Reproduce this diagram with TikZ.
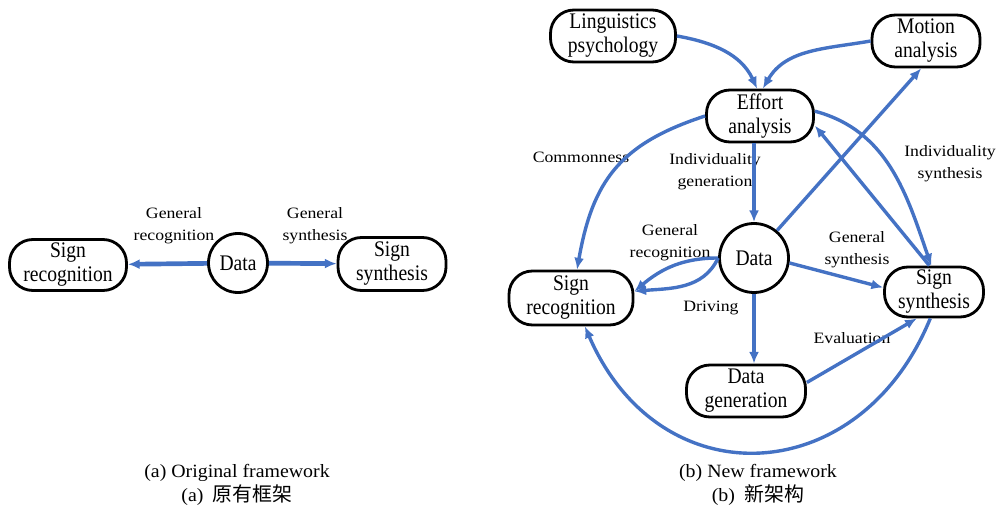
\documentclass[tikz,border=0pt]{standalone}
\usepackage{fontspec}
\setmainfont{Liberation Serif}
\newfontfamily\nodefont{Liberation Serif}[FakeStretch=0.88]
\newfontfamily\lblfont{Liberation Serif}[FakeStretch=1.12]
\newfontfamily\capfont{Liberation Serif}[FakeStretch=1.06]
\newfontfamily\cjk{Noto Sans CJK SC}
\usetikzlibrary{arrows.meta}
\definecolor{arrblue}{HTML}{4472C4}

\begin{document}
\begin{tikzpicture}[
    x=0.03cm, y=-0.03cm,
    box/.style={draw, line width=2.4pt, rounded corners=20pt, align=center, inner sep=1pt, font=\nodefont\fontsize{19}{20.5}\selectfont},
    circ/.style={draw, circle, line width=2.4pt, inner sep=0pt, font=\nodefont\fontsize{19}{20.5}\selectfont},
    lbl/.style={align=center, inner sep=0pt, font=\lblfont\fontsize{13.5}{18.5}\selectfont},
    captext/.style={align=center, inner sep=0pt, font=\capfont\fontsize{16}{21}\selectfont},
    arr/.style={-{Latex[length=10pt,width=8.5pt]}, arrblue, line width=2.9pt},
    arrthick/.style={arr, line width=4pt}
  ]
    \useasboundingbox (0,0) rectangle (1005,508);

    \node[box, minimum width=3.51cm, minimum height=1.53cm] (srecA) at (68,265) {Sign\\recognition};
    \node[circ, minimum size=1.77cm] (dataA) at (238,263) {Data};
    \node[box, minimum width=3.24cm, minimum height=1.59cm] (ssynA) at (392,264) {Sign\\synthesis};

    \node[box, minimum width=3.75cm, minimum height=1.56cm] (ling) at (613,36) {Linguistics\\psychology};
    \node[box, minimum width=3.24cm, minimum height=1.56cm] (motion) at (926,41) {Motion\\analysis};
    \node[box, minimum width=3.21cm, minimum height=1.56cm] (effort) at (760,116) {Effort\\analysis};
    \node[circ, minimum size=2.07cm] (dataB) at (754,258) {Data};
    \node[box, minimum width=3.72cm, minimum height=1.62cm] (srecB) at (571,298) {Sign\\recognition};
    \node[box, minimum width=2.97cm, minimum height=1.50cm] (ssynB) at (934,292) {Sign\\synthesis};
    \node[box, minimum width=3.57cm, minimum height=1.56cm] (dgen) at (746,391) {Data\\generation};

    \node[lbl] (lgrA) at (174,226) {General\\recognition};
    \node[lbl] (lgsA) at (315,226) {General\\synthesis};
    \node[lbl] (lcom) at (581,157) {Commonness};
    \node[lbl] (lig) at (715,172) {Individuality\\generation};
    \node[lbl] (lis) at (950,164) {Individuality\\synthesis};
    \node[lbl] (lgrB) at (670,243) {General\\recognition};
    \node[lbl] (ldrv) at (711,308) {Driving};
    \node[lbl] (lgsB) at (857,250) {General\\synthesis};
    \node[lbl] (leval) at (852,338) {Evaluation};

    \node[captext] (capA) at (237,485) {(a) Original framework\\(a)\enspace{\cjk\fontsize{17}{21}\selectfont 原有框架}};
    \node[captext] (capB) at (758,485) {(b) New framework\\(b)\enspace{\cjk\fontsize{17}{21}\selectfont 新架构}};

    \draw[arrthick] (dataA) -- (srecA);
    \draw[arrthick] (dataA) -- (ssynA);

    \draw[arr] (ling.east) to[out=-10, in=115] (effort.96);
    \draw[arr] (motion.west) to[out=190, in=60] (effort.84);
    \draw[arr] (dataB.north |- effort.south) -- (dataB.north);
    \draw[arr] (dataB.50) -- (motion.-100);
    \draw[arr] (ssynB.100) -- (effort.-10);
    \draw[arr] (effort.5) to[out=-15, in=109] (ssynB.96);
    \draw[arr] (effort.west) to[out=198, in=80, looseness=1.15] (srecB.78);
    \draw[arr] (dataB.west) to[out=180, in=40] (srecB.6);
    \draw[arr] (dataB.west) to[out=-115, in=5] (srecB.6);
    \draw[arr] (dataB.-8) -- (ssynB.175);
    \draw[arr] (dataB.south) -- (dataB.south |- dgen.north);
    \draw[arr] (dgen.8) -- (ssynB.237);
    \draw[arr] (ssynB.-98) .. controls (860,490) and (660,500) .. (srecB.-64);
  \end{tikzpicture}
\end{document}
